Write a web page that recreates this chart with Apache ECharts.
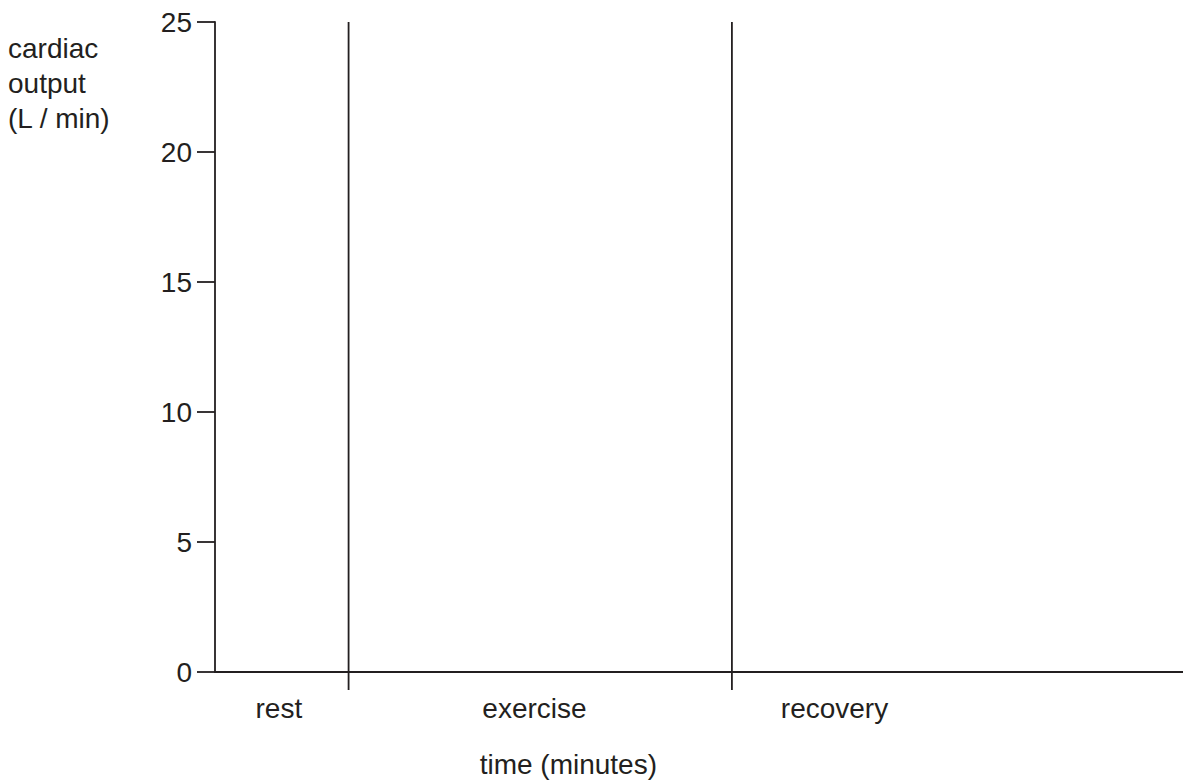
<!DOCTYPE html>
<html>
<head>
<meta charset="utf-8">
<script src="https://cdn.jsdelivr.net/npm/echarts@6/dist/echarts.min.js"></script>
<style>
  html, body { margin: 0; padding: 0; background: #ffffff; }
  #chart { width: 1183px; height: 780px; }
</style>
</head>
<body>
<div id="chart"></div>
<script>
// ---- Data ----
const yMin = 0;
const yMax = 25;
const yInterval = 5;
const xMin = 0;
const xMax = 100;                     // time axis (arbitrary units, no tick labels)
const phaseBoundaries = [13.8, 53.4]; // vertical separators on the time axis
const phases = ['rest', 'exercise', 'recovery'];
const phaseLabelX = [6.6, 33.0, 64.0];
const xAxisTitle = 'time (minutes)';
const xAxisTitleX = 36.5;
const yAxisTitle = 'cardiac\noutput\n(L / min)';

// ---- Styling ----
const INK = '#231f20';
const FONT = '"Liberation Sans", Arial, Helvetica, sans-serif';
const FS = 28;

const chart = echarts.init(document.getElementById('chart'), null, { renderer: 'svg' });

const boundaryData = phaseBoundaries.map(x => [x]);
const labelData = phases.map((p, i) => [phaseLabelX[i], p, 36]);
labelData.push([xAxisTitleX, xAxisTitle, 92]);

chart.setOption({
  animation: false,
  backgroundColor: '#ffffff',
  title: {
    text: yAxisTitle,
    left: 8,
    top: 31,
    padding: 0,
    textStyle: {
      fontFamily: FONT,
      fontSize: FS,
      fontWeight: 'normal',
      color: INK,
      lineHeight: 35
    }
  },
  grid: { left: 215, right: 0, top: 22, bottom: 108, containLabel: false },
  xAxis: {
    type: 'value',
    min: xMin,
    max: xMax,
    axisLine: { show: true, lineStyle: { color: INK, width: 1.8 } },
    axisTick: { show: false },
    axisLabel: { show: false },
    splitLine: { show: false }
  },
  yAxis: {
    type: 'value',
    min: yMin,
    max: yMax,
    interval: yInterval,
    axisLine: { show: true, lineStyle: { color: INK, width: 1.8 } },
    axisTick: { show: true, inside: false, length: 18, lineStyle: { color: INK, width: 1.8 } },
    axisLabel: { margin: 23, fontSize: FS, fontFamily: FONT, color: INK },
    splitLine: { show: false }
  },
  series: [
    {
      type: 'custom',
      name: 'boundaries',
      clip: false,
      silent: true,
      data: boundaryData,
      renderItem: function (params, api) {
        const x = api.value(0);
        const top = api.coord([x, yMax]);
        const bottom = api.coord([x, yMin]);
        return {
          type: 'line',
          shape: { x1: top[0], y1: top[1], x2: bottom[0], y2: bottom[1] + 18 },
          style: { stroke: INK, lineWidth: 1.8 }
        };
      }
    },
    {
      type: 'custom',
      name: 'labels',
      clip: false,
      silent: true,
      data: labelData,
      renderItem: function (params, api) {
        const item = labelData[params.dataIndex];
        const p = api.coord([item[0], yMin]);
        return {
          type: 'text',
          x: p[0],
          y: p[1] + item[2],
          style: {
            text: item[1],
            fill: INK,
            font: 'normal ' + FS + 'px ' + FONT,
            textAlign: 'center',
            textVerticalAlign: 'middle'
          }
        };
      }
    }
  ]
});
</script>
</body>
</html>
